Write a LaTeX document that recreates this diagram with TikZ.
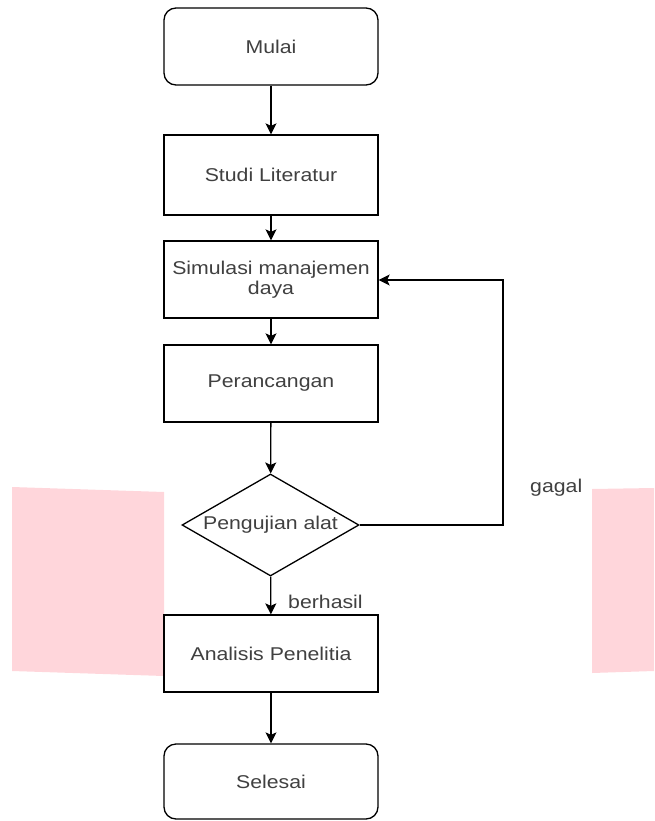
\documentclass[tikz,border=0pt]{standalone}
\usepackage{fontspec}
\setmainfont{Liberation Sans}[FakeStretch=1.15]
\usetikzlibrary{shapes.geometric,arrows.meta}
\definecolor{txt}{RGB}{64,64,64}
\definecolor{pinkbg}{RGB}{255,214,219}
\begin{document}
\begin{tikzpicture}[x=1pt,y=-1pt,
  base/.style={draw=black,line width=1.3pt,font=\fontsize{18.5}{20}\selectfont,text=txt,inner sep=0pt,align=center},
  term/.style={base,rectangle,rounded corners=12pt,minimum width=214pt},
  proc/.style={base,rectangle,minimum width=214pt},
  dec/.style={base,diamond,minimum width=177pt,minimum height=102pt,aspect=1.735},
  lbl/.style={font=\fontsize{18.5}{20}\selectfont,text=txt,inner sep=0pt},
  arr/.style={line width=1.3pt,-{Stealth[length=11pt,width=11pt,inset=2.5pt]}}
]
\useasboundingbox (0,0) rectangle (654,821);
\fill[pinkbg] (12,487) -- (164,492) -- (164,676) -- (12,671) -- cycle;
\fill[pinkbg] (592,489) -- (654,488) -- (654,671) -- (592,673) -- cycle;

\node[term,minimum height=77pt] (start) at (271,46.5) {Mulai};
\node[proc,minimum height=80pt] (studi) at (271,175) {Studi Literatur};
\node[proc,minimum height=77pt] (sim) at (271,279.5) {Simulasi manajemen\\daya};
\node[proc,minimum height=77pt] (ran) at (271,383.5) {Perancangan};
\node[dec] (uji) at (270.5,525) {Pengujian alat};
\node[proc,minimum height=77pt] (ana) at (271,653.5) {Analisis Penelitia};
\node[term,minimum height=75pt] (end) at (271,781.5) {Selesai};

\coordinate (c1) at (503,525);
\coordinate (c2) at (503,280);

\draw[arr] (start) -- (studi);
\draw[arr] (studi) -- (sim);
\draw[arr] (sim) -- (ran);
\draw[arr] (ran) -- (uji);
\draw[arr] (uji) -- (ana);
\draw[arr] (ana) -- (end);
\draw[arr] (uji.east) -- (c1) -- (c2) -- (sim.east |- c2);

\node[lbl,anchor=west] (gagal) at (530,488) {gagal};
\node[lbl,anchor=west] (berhasil) at (288,602) {berhasil};
\end{tikzpicture}
\end{document}
